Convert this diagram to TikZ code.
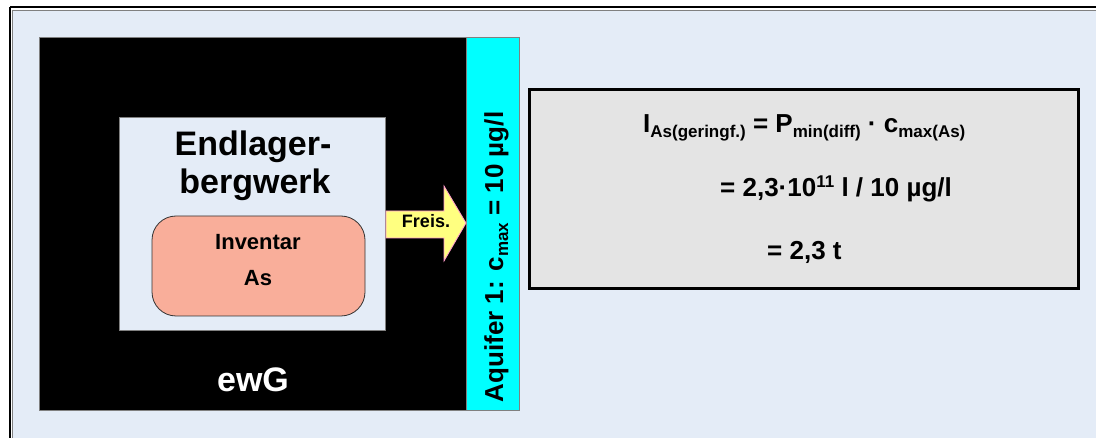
\documentclass[tikz,border=0pt]{standalone}
\usepackage{fontspec}
\setmainfont{Liberation Sans}
\definecolor{bgblue}{HTML}{E4ECF7}
\definecolor{framegrey}{HTML}{808080}
\definecolor{salmon}{HTML}{F9AE9A}
\definecolor{formgrey}{HTML}{E4E4E4}
\definecolor{arrowyellow}{HTML}{FFFF80}
\definecolor{arrowpink}{HTML}{FF99CC}
\definecolor{aqcyan}{HTML}{00FFFF}
\newcommand{\lsub}[1]{\raisebox{-5pt}{\fontsize{17}{17}\selectfont #1}}
\newcommand{\lsup}[1]{\raisebox{9pt}{\fontsize{17}{17}\selectfont #1}}
\begin{document}
\begin{tikzpicture}[x=1pt,y=-1pt,
  plainbox/.style={inner sep=0pt, outer sep=0pt, anchor=north west},
  bigtext/.style={font=\fontsize{34}{40}\selectfont\bfseries, inner sep=0pt, anchor=base},
  midtext/.style={font=\fontsize{22}{26}\selectfont\bfseries, inner sep=0pt, anchor=base},
  formtext/.style={font=\fontsize{26}{30}\selectfont\bfseries, inner sep=0pt, anchor=base west}]
\useasboundingbox (0,0) rectangle (1096,438);
\fill[white] (0,0) rectangle (1096,438);
% outer frame
\fill[bgblue] (12,10.5) rectangle (1100,442);
\draw[black, line width=2] (10,7.5) -- (1100,7.5);
\draw[black, line width=2] (10,7.5) -- (10,442);
\draw[framegrey, line width=1.2] (12.5,10.5) -- (1100,10.5);
\draw[framegrey, line width=1.2] (12.5,10.5) -- (12.5,442);
% ewG block
\node[plainbox, fill=black, draw=framegrey, line width=0.8, minimum width=427, minimum height=373] (ewg) at (39,37) {};
% aquifer bar
\node[plainbox, fill=aqcyan, draw=framegrey, line width=0.8, minimum width=53, minimum height=373] (aq) at (466,37) {};
% Endlager box
\node[plainbox, fill=bgblue, draw=framegrey, line width=0.8, minimum width=266, minimum height=213] (el) at (119,117) {};
% Inventar rounded box
\node[plainbox, fill=salmon, draw=black!80, line width=0.8, rounded corners=24, minimum width=213, minimum height=100] (inv) at (152,216) {};
% texts
\node[bigtext] (el1) at (253,156) {Endlager-};
\node[bigtext] (el2) at (255,194) {bergwerk};
\node[midtext] (inv1) at (258,250) {Inventar};
\node[midtext] (inv2) at (258,286) {As};
\node[bigtext, text=white] (ewgt) at (253,392) {ewG};
\node[font=\fontsize{26}{30}\selectfont\bfseries, inner sep=0pt, anchor=base, rotate=90] (aqt) at (503,257) {Aquifer 1: c\lsub{max} = 10 µg/l};
% arrow Freis.
\draw[fill=arrowyellow, draw=arrowpink, line width=0.8] (386,211) -- (444,211) -- (444,186) -- (466,223) -- (444,261) -- (444,238) -- (386,238) -- cycle;
\node[font=\fontsize{18}{20}\selectfont\bfseries, inner sep=0pt, anchor=base] (fr) at (426,228) {Freis.};
% formula box
\node[plainbox, fill=formgrey, draw=black, line width=3, minimum width=549, minimum height=199] (form) at (529,90) {};
\node[formtext] (f1) at (643,133) {I\lsub{As(geringf.)} = P\lsub{min(diff)} · c\lsub{max(As)}};
\node[formtext] (f2) at (720,197) {= 2,3·10\lsup{11} l / 10 µg/l};
\node[formtext] (f3) at (767,260) {= 2,3 t};
\end{tikzpicture}
\end{document}
